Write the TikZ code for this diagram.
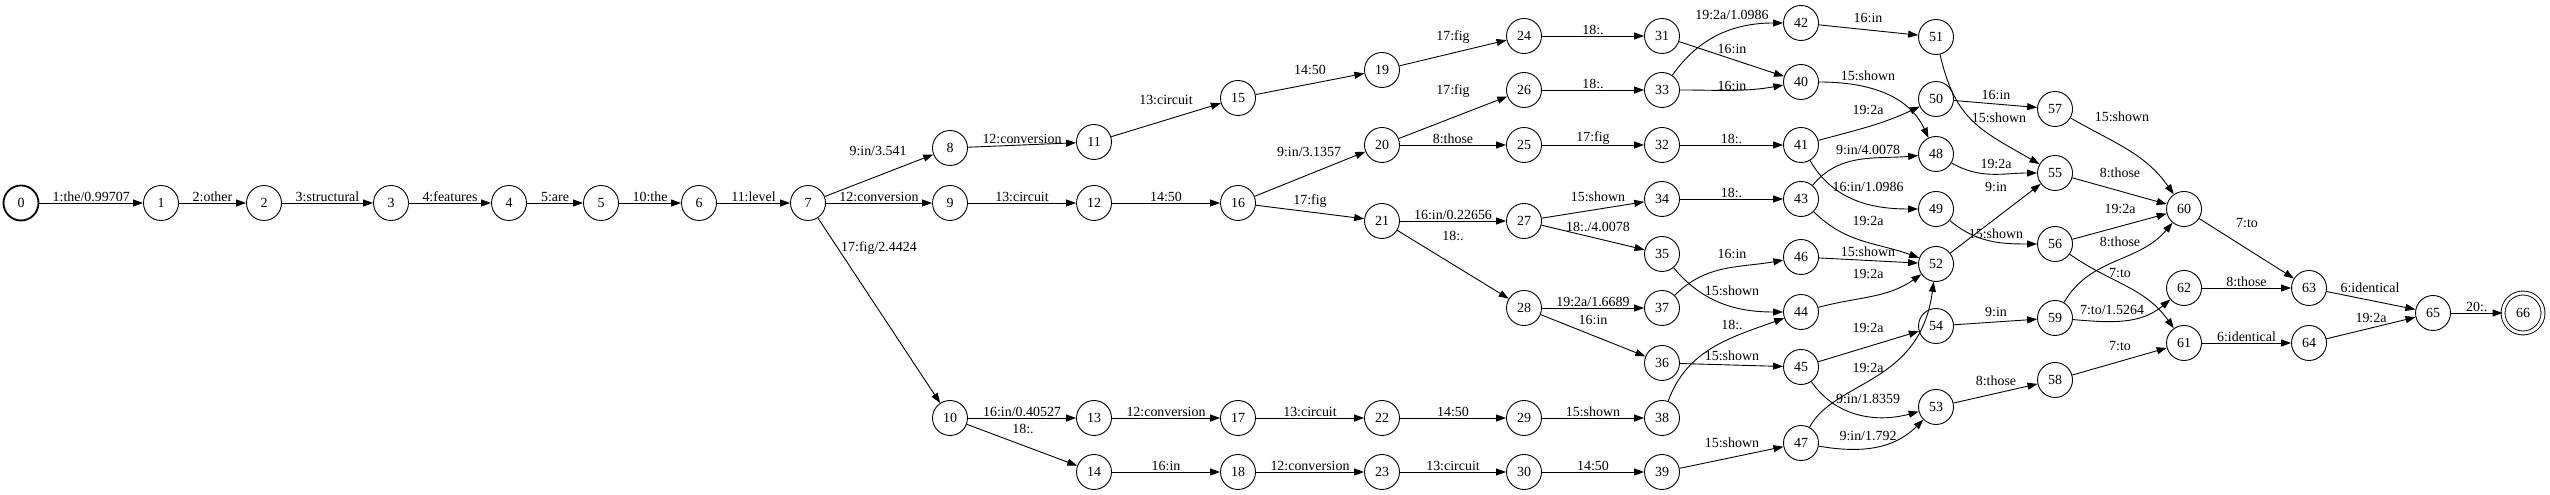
\documentclass[tikz,border=0pt]{standalone}
\usepackage{fontspec}
\setmainfont{Liberation Serif}
\usepackage{tikz}
\usetikzlibrary{arrows.meta}

\begin{document}
\begin{tikzpicture}[x=1bp, y=1bp,
    stato/.style={circle, draw, line width=0.9bp, minimum size=35bp, inner sep=0pt, font=\fontsize{14}{16}\selectfont},
    iniz/.style={stato, line width=1.8bp},
    finale/.style={stato, minimum size=40bp, double, double distance=3bp},
    arco/.style={line width=0.9bp, -{Triangle[length=10bp, width=7bp]}},
    etic/.style={font=\fontsize{14}{16}\selectfont, inner sep=0.5bp}]

    \useasboundingbox (0,0) rectangle (2550,495);

    % Stati
    \node[iniz] (s0) at (21,292) {0};
    \foreach \n/\x/\y in {1/161/292, 2/264/292, 3/391/292, 4/509/292, 5/601/292, 6/699/292, 7/808/292,
        8/950/347, 9/950/292, 10/950/77,
        11/1094/353, 12/1094/292, 13/1094/77, 14/1094/23,
        15/1238/397, 16/1238/292, 17/1238/77, 18/1238/23,
        19/1382/425, 20/1382/350, 21/1382/274, 22/1382/77, 23/1382/23,
        24/1524/459, 26/1524/405, 25/1524/350, 27/1524/274, 28/1524/187, 29/1524/77, 30/1524/23,
        31/1662/459, 33/1662/405, 32/1662/350, 34/1662/296, 35/1662/241, 37/1662/187, 36/1662/132, 38/1662/77, 39/1662/23,
        42/1801/472, 40/1801/413, 41/1801/350, 43/1801/296, 46/1801/238, 44/1801/183, 45/1801/128, 47/1801/52,
        51/1936/458, 50/1936/396, 48/1936/341, 49/1936/286, 52/1936/231, 54/1936/169, 53/1936/88,
        57/2055/386, 55/2055/322, 56/2055/251, 59/2055/177, 58/2055/115,
        60/2184/286, 62/2184/207, 61/2184/152,
        63/2309/207, 64/2309/152,
        65/2433/182}
        \node[stato] (s\n) at (\x,\y) {\n};
    \node[finale] (s66) at (2523,182) {66};

    % Catena iniziale
    \draw[arco] (s0) -- node[etic, above] {1:the/0.99707} (s1);
    \draw[arco] (s1) -- node[etic, above] {2:other} (s2);
    \draw[arco] (s2) -- node[etic, above] {3:structural} (s3);
    \draw[arco] (s3) -- node[etic, above] {4:features} (s4);
    \draw[arco] (s4) -- node[etic, above] {5:are} (s5);
    \draw[arco] (s5) -- node[etic, above] {10:the} (s6);
    \draw[arco] (s6) -- node[etic, above] {11:level} (s7);

    % Rami da 7
    \draw[arco] (s7) -- (s8) node[etic] at (878,344) {9:in/3.541};
    \draw[arco] (s7) -- node[etic, above] {12:conversion} (s9);
    \draw[arco] (s7) -- (s10) node[etic] at (879,247) {17:fig/2.4424};
    \draw[arco] (s8) -- node[etic, above] {12:conversion} (s11);
    \draw[arco] (s11) -- (s15) node[etic] at (1166,395) {13:circuit};
    \draw[arco] (s9) -- node[etic, above] {13:circuit} (s12);
    \draw[arco] (s12) -- node[etic, above] {14:50} (s16);
    \draw[arco] (s10) -- node[etic, above] {16:in/0.40527} (s13);
    \draw[arco] (s10) -- (s14) node[etic] at (1023,66) {18:.};

    % Colonne 15-30
    \draw[arco] (s15) -- (s19) node[etic] at (1310,425) {14:50};
    \draw[arco] (s16) -- (s20) node[etic] at (1309,343) {9:in/3.1357};
    \draw[arco] (s16) -- (s21) node[etic] at (1310,294) {17:fig};
    \draw[arco] (s13) -- node[etic, above] {12:conversion} (s17);
    \draw[arco] (s14) -- node[etic, above] {16:in} (s18);
    \draw[arco] (s17) -- node[etic, above] {13:circuit} (s22);
    \draw[arco] (s18) -- node[etic, above] {12:conversion} (s23);
    \draw[arco] (s19) -- (s24) node[etic] at (1453,458) {17:fig};
    \draw[arco] (s20) -- (s26) node[etic] at (1453,404) {17:fig};
    \draw[arco] (s20) -- node[etic, above] {8:those} (s25);
    \draw[arco] (s21) -- node[etic, above] {16:in/0.22656} (s27);
    \draw[arco] (s21) -- (s28) node[etic] at (1453,259) {18:.};
    \draw[arco] (s22) -- node[etic, above] {14:50} (s29);
    \draw[arco] (s23) -- node[etic, above] {13:circuit} (s30);

    % Colonne 31-39
    \draw[arco] (s24) -- node[etic, above] {18:.} (s31);
    \draw[arco] (s26) -- node[etic, above] {18:.} (s33);
    \draw[arco] (s25) -- node[etic, above] {17:fig} (s32);
    \draw[arco] (s27) -- (s34) node[etic] at (1598,298) {15:shown};
    \draw[arco] (s27) -- (s35) node[etic] at (1598,268) {18:./4.0078};
    \draw[arco] (s28) -- node[etic, above] {19:2a/1.6689} (s37);
    \draw[arco] (s28) -- (s36) node[etic] at (1593,175) {16:in};
    \draw[arco] (s29) -- node[etic, above] {15:shown} (s38);
    \draw[arco] (s30) -- node[etic, above] {14:50} (s39);

    % Colonna 40-47
    \draw[arco] (s31) -- (s40) node[etic] at (1732,446) {16:in};
    \draw[arco] (s33) to[out=55, in=180] (s42) node[etic] at (1732,480) {19:2a/1.0986};
    \draw[arco] (s33) to[out=0, in=190] (s40) node[etic] at (1732,409) {16:in};
    \draw[arco] (s32) -- node[etic, above] {18:.} (s41);
    \draw[arco] (s34) -- node[etic, above] {18:.} (s43);
    \draw[arco] (s37) to[out=45, in=190] (s46) node[etic] at (1732,241) {16:in};
    \draw[arco] (s35) to[out=-50, in=180] (s44) node[etic] at (1732,204) {15:shown};
    \draw[arco] (s38) to[out=70, in=200] (s44) node[etic] at (1732,170) {18:.};
    \draw[arco] (s36) -- (s45) node[etic] at (1732,139) {15:shown};
    \draw[arco] (s39) -- (s47) node[etic] at (1732,52) {15:shown};

    % Colonna 48-54
    \draw[arco] (s42) -- (s51) node[etic] at (1868,477) {16:in};
    \draw[arco] (s40) to[out=0, in=115] (s48) node[etic] at (1868,419) {15:shown};
    \draw[arco] (s41) to[out=15, in=205] (s50) node[etic] at (1868,385) {19:2a};
    \draw[arco] (s43) to[out=50, in=185] (s48) node[etic] at (1868,345) {9:in/4.0078};
    \draw[arco] (s41) to[out=-60, in=180] (s49) node[etic] at (1868,308) {16:in/1.0986};
    \draw[arco] (s43) to[out=-45, in=160] (s52) node[etic] at (1868,274) {19:2a};
    \draw[arco] (s46) -- (s52) node[etic] at (1868,243) {15:shown};
    \draw[arco] (s44) to[out=15, in=215] (s52) node[etic] at (1868,221) {19:2a};
    \draw[arco] (s45) -- (s54) node[etic] at (1868,167) {19:2a};
    \draw[arco] (s47) .. controls (1835,115) and (1920,110) .. (s52) node[etic] at (1868,127) {19:2a};
    \draw[arco] (s45) to[out=-55, in=195] (s53) node[etic] at (1868,96) {9:in/1.8359};
    \draw[arco] (s47) to[out=-10, in=225] (s53) node[etic] at (1868,59) {9:in/1.792};

    % Colonna 55-59
    \draw[arco] (s51) .. controls (1955,375) and (1980,365) .. (s55) node[etic] at (1999,377) {15:shown};
    \draw[arco] (s50) -- (s57) node[etic] at (1996,400) {16:in};
    \draw[arco] (s48) to[out=-30, in=180] (s55) node[etic] at (1996,331) {19:2a};
    \draw[arco] (s52) -- (s55) node[etic] at (1996,308) {9:in};
    \draw[arco] (s49) to[out=-40, in=180] (s56) node[etic] at (1996,261) {15:shown};
    \draw[arco] (s54) -- (s59) node[etic] at (1996,183) {9:in};
    \draw[arco] (s53) -- (s58) node[etic] at (1996,114) {8:those};

    % Colonna 60-62
    \draw[arco] (s57) to[out=-30, in=125] (s60) node[etic] at (2122,378) {15:shown};
    \draw[arco] (s55) -- (s60) node[etic] at (2120,322) {8:those};
    \draw[arco] (s56) -- (s60) node[etic] at (2120,286) {19:2a};
    \draw[arco] (s59) to[out=60, in=230] (s60) node[etic] at (2120,253) {8:those};
    \draw[arco] (s56) to[out=-35, in=125] (s61) node[etic] at (2120,222) {7:to};
    \draw[arco] (s59) to[out=-5, in=220] (s62) node[etic] at (2112,185) {7:to/1.5264};
    \draw[arco] (s58) -- (s61) node[etic] at (2120,149) {7:to};

    % Stati finali
    \draw[arco] (s60) -- (s63) node[etic] at (2247,272) {7:to};
    \draw[arco] (s62) -- node[etic, above] {8:those} (s63);
    \draw[arco] (s61) -- node[etic, above] {6:identical} (s64);
    \draw[arco] (s63) -- (s65) node[etic] at (2370,207) {6:identical};
    \draw[arco] (s64) -- (s65) node[etic] at (2371,177) {19:2a};
    \draw[arco] (s65) -- node[etic, above] {20:.} (s66);
\end{tikzpicture}
\end{document}
